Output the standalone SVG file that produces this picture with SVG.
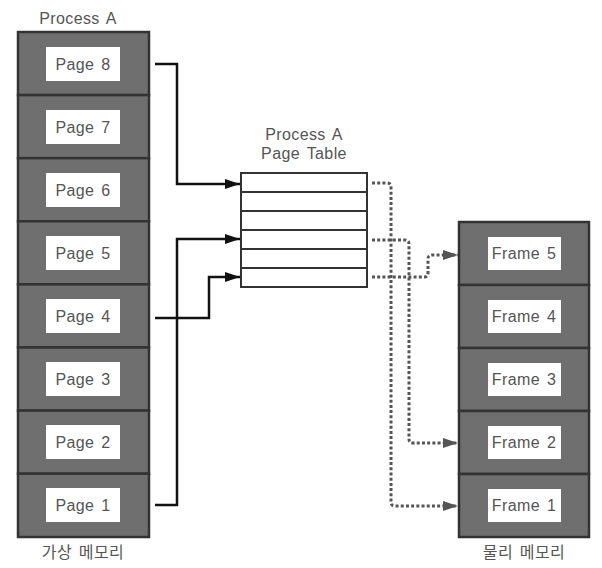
<svg xmlns="http://www.w3.org/2000/svg" width="602" height="568" viewBox="0 0 602 568">
<defs>
<style>
.cell{fill:#6f6f6f;stroke:#333;stroke-width:2.5}
.box{fill:#fff;stroke:none}
.lbl{font-family:"Liberation Sans","Noto Sans CJK KR",sans-serif;font-size:16px;fill:#555;text-anchor:middle;dominant-baseline:central;letter-spacing:0.4px;word-spacing:2px}
.row{fill:#fff;stroke:#333;stroke-width:2}
.solid{fill:none;stroke:#111;stroke-width:2.5}
.dot{fill:none;stroke:#555;stroke-width:3;stroke-dasharray:3 2.2}
</style>
<marker id="ah" viewBox="0 0 15 10" refX="15" refY="5" markerWidth="15" markerHeight="10" markerUnits="userSpaceOnUse" orient="auto">
<path d="M0,0 L15,5 L0,10 Z" fill="#111"/>
</marker>
<marker id="ahg" viewBox="0 0 15 10" refX="15" refY="5" markerWidth="15" markerHeight="10" markerUnits="userSpaceOnUse" orient="auto">
<path d="M0,0 L15,5 L0,10 Z" fill="#555"/>
</marker>
</defs>
<rect width="602" height="568" fill="#fff"/>

<text class="lbl" x="78" y="18">Process A</text>
<text class="lbl" x="83" y="552">가상 메모리</text>
<text class="lbl" x="524" y="552">물리 메모리</text>
<text class="lbl" x="304" y="134">Process A</text>
<text class="lbl" x="304" y="153">Page Table</text>

<g id="page8"><rect class="cell" x="18" y="32" width="131" height="63.1"/><rect class="box" x="46" y="47" width="74" height="34"/><text class="lbl" x="83" y="64">Page 8</text></g>
<g id="page7"><rect class="cell" x="18" y="95.1" width="131" height="63.1"/><rect class="box" x="46" y="110" width="74" height="34"/><text class="lbl" x="83" y="127">Page 7</text></g>
<g id="page6"><rect class="cell" x="18" y="158.2" width="131" height="63.1"/><rect class="box" x="46" y="173" width="74" height="34"/><text class="lbl" x="83" y="190">Page 6</text></g>
<g id="page5"><rect class="cell" x="18" y="221.3" width="131" height="63.1"/><rect class="box" x="46" y="236" width="74" height="34"/><text class="lbl" x="83" y="253">Page 5</text></g>
<g id="page4"><rect class="cell" x="18" y="284.4" width="131" height="63.1"/><rect class="box" x="46" y="299" width="74" height="34"/><text class="lbl" x="83" y="316">Page 4</text></g>
<g id="page3"><rect class="cell" x="18" y="347.5" width="131" height="63.1"/><rect class="box" x="46" y="362" width="74" height="34"/><text class="lbl" x="83" y="379">Page 3</text></g>
<g id="page2"><rect class="cell" x="18" y="410.6" width="131" height="63.1"/><rect class="box" x="46" y="425" width="74" height="34"/><text class="lbl" x="83" y="442">Page 2</text></g>
<g id="page1"><rect class="cell" x="18" y="473.7" width="131" height="63.3"/><rect class="box" x="46" y="488" width="74" height="34"/><text class="lbl" x="83" y="505">Page 1</text></g>

<g id="pagetable">
<rect class="row" x="241" y="173" width="126" height="19"/>
<rect class="row" x="241" y="192" width="126" height="19"/>
<rect class="row" x="241" y="211" width="126" height="19"/>
<rect class="row" x="241" y="230" width="126" height="19"/>
<rect class="row" x="241" y="249" width="126" height="19"/>
<rect class="row" x="241" y="268" width="126" height="19"/>
</g>

<g id="frame5"><rect class="cell" x="459" y="222" width="130" height="63"/><rect class="box" x="488" y="237" width="73" height="33"/><text class="lbl" x="524" y="253.5">Frame 5</text></g>
<g id="frame4"><rect class="cell" x="459" y="285" width="130" height="63"/><rect class="box" x="488" y="300" width="73" height="33"/><text class="lbl" x="524" y="316.5">Frame 4</text></g>
<g id="frame3"><rect class="cell" x="459" y="348" width="130" height="63"/><rect class="box" x="488" y="363" width="73" height="33"/><text class="lbl" x="524" y="379.5">Frame 3</text></g>
<g id="frame2"><rect class="cell" x="459" y="411" width="130" height="63"/><rect class="box" x="488" y="426" width="73" height="33"/><text class="lbl" x="524" y="442.5">Frame 2</text></g>
<g id="frame1"><rect class="cell" x="459" y="474" width="130" height="63"/><rect class="box" x="488" y="489" width="73" height="33"/><text class="lbl" x="524" y="505.5">Frame 1</text></g>

<g id="connectors">
<path class="solid" d="M155,64 H177 V184 H240" marker-end="url(#ah)"/>
<path class="solid" d="M155,505 H177 V239 H240" marker-end="url(#ah)"/>
<path class="solid" d="M155,318 H209 V277 H240" marker-end="url(#ah)"/>
<path class="dot" d="M372,183 H387 Q391,183 391,187 V502 Q391,506 395,506 H458" marker-end="url(#ahg)"/>
<path class="dot" d="M372,240 H405 Q409,240 409,244 V439 Q409,443 413,443 H458" marker-end="url(#ahg)"/>
<path class="dot" d="M372,277 H424 Q428,277 428,273 V259 Q428,255 432,255 H458" marker-end="url(#ahg)"/>
</g>
</svg>
